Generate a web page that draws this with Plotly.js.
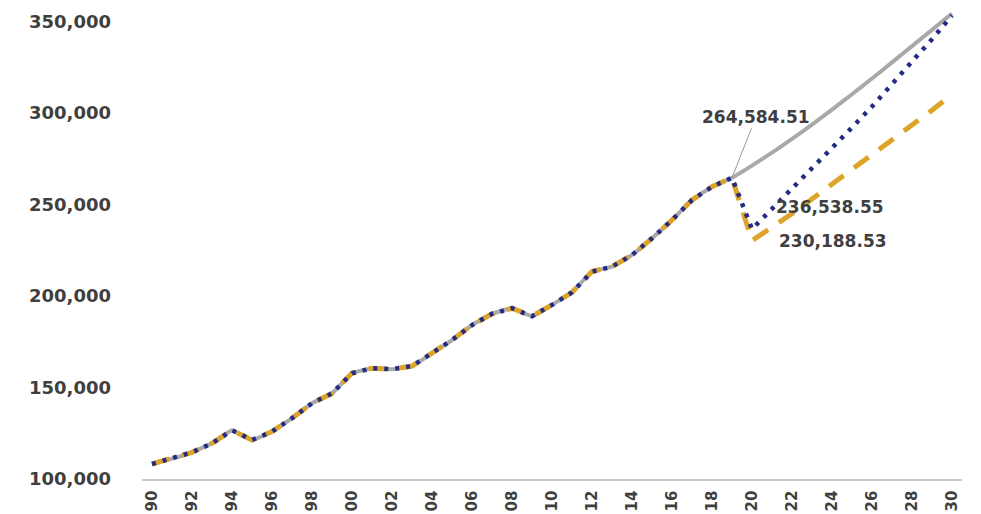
<!DOCTYPE html>
<html>
<head>
<meta charset="utf-8">
<script src="https://cdn.plot.ly/plotly-3.0.1.min.js"></script>
<style>
  html, body { margin: 0; padding: 0; background: #ffffff; }
  #chart { width: 981px; height: 514px; }
</style>
</head>
<body>
<div id="chart"></div>
<script>
// ---- data ----
const years = [1990,1991,1992,1993,1994,1995,1996,1997,1998,1999,
               2000,2001,2002,2003,2004,2005,2006,2007,2008,2009,
               2010,2011,2012,2013,2014,2015,2016,2017,2018,2019,
               2020,2021,2022,2023,2024,2025,2026,2027,2028,2029,2030];

const history = [108200,111100,114600,119500,126600,121300,125900,133200,141400,146800,
                 157800,160500,160000,161700,168700,175900,184100,190200,193300,188900,
                 195100,202000,213300,216000,222400,231500,241500,252400,259700,264584.51];

// baseline (no shock) projection 2020-2030
const baselineProj = [271200,278300,285800,293600,301800,310200,318800,327600,336500,345400,354300];
// optimistic recovery projection 2020-2030
const optimisticProj = [236538.55,247500,258500,269500,280800,292000,303500,315500,327800,340300,353200];
// pessimistic recovery projection 2020-2030
const pessimisticProj = [230188.53,237500,245000,253000,261000,269000,277000,285000,293000,301500,310000];

const xTickVals = [1990,1992,1994,1996,1998,2000,2002,2004,2006,2008,2010,
                   2012,2014,2016,2018,2020,2022,2024,2026,2028,2030];
const xTickText = ["90","92","94","96","98","00","02","04","06","08","10",
                   "12","14","16","18","20","22","24","26","28","30"];
const yTickVals = [100000,150000,200000,250000,300000,350000];
const yTickText = ["100,000","150,000","200,000","250,000","300,000","350,000"];

const labelPeak = "264,584.51";
const labelOpt = "236,538.55";
const labelPes = "230,188.53";

// ---- build ----
const grayY = history.concat(baselineProj);
const yellowY = history.concat(pessimisticProj);
const blueY = history.concat(optimisticProj);

const FONT = "DejaVu Sans, Arial, sans-serif";
const TXT = "#3f3f3f";

const traces = [
  { x: years, y: grayY, type: "scatter", mode: "lines",
    line: { color: "#a9a9a9", width: 4, shape: "spline", smoothing: 0.3 }, hoverinfo: "skip" },
  { x: years, y: yellowY, type: "scatter", mode: "lines",
    line: { color: "#dca52a", width: 5, dash: "18px,13px" }, hoverinfo: "skip" },
  { x: years, y: blueY, type: "scatter", mode: "lines",
    line: { color: "#232b83", width: 4.5, dash: "4px,7px" }, hoverinfo: "skip" }
];

const idx2019 = years.indexOf(2019);
const idx2020 = years.indexOf(2020);

const layout = {
  width: 981, height: 514,
  margin: { l: 142, r: 19, t: 0, b: 35, pad: 0 },
  paper_bgcolor: "#ffffff", plot_bgcolor: "#ffffff",
  showlegend: false,
  font: { family: FONT, color: TXT },
  xaxis: {
    range: [1989.5, 2030.5],
    tickmode: "array", tickvals: xTickVals, ticktext: xTickText,
    tickangle: -90, ticks: "", showgrid: false, zeroline: false,
    showline: true, linecolor: "#d2c9c5", linewidth: 1.5,
    ticklabelstandoff: 4,
    tickfont: { family: FONT, size: 15, color: TXT, weight: "bold" }
  },
  yaxis: {
    range: [100000, 361700],
    tickmode: "array", tickvals: yTickVals, ticktext: yTickText,
    ticks: "", showgrid: false, zeroline: false, showline: false,
    ticklabelstandoff: 30,
    tickfont: { family: FONT, size: 18, color: TXT, weight: "bold" }
  },
  annotations: [
    { x: years[idx2019], y: history[idx2019], xref: "x", yref: "y",
      text: labelPeak, showarrow: true, arrowhead: 0, arrowwidth: 1, arrowcolor: "#9a9a9a",
      ax: 24, ay: -61, standoff: 0,
      font: { family: FONT, size: 17, color: TXT, weight: "bold" } },
    { x: years[idx2020], y: optimisticProj[0], xref: "x", yref: "y",
      text: labelOpt, showarrow: false, xanchor: "left", yanchor: "middle",
      xshift: 22, yshift: 22,
      font: { family: FONT, size: 17, color: TXT, weight: "bold" } },
    { x: years[idx2020], y: pessimisticProj[0], xref: "x", yref: "y",
      text: labelPes, showarrow: false, xanchor: "left", yanchor: "middle",
      xshift: 25, yshift: 0,
      font: { family: FONT, size: 17, color: TXT, weight: "bold" } }
  ]
};

Plotly.newPlot("chart", traces, layout, { displayModeBar: false, staticPlot: true });
</script>
</body>
</html>
